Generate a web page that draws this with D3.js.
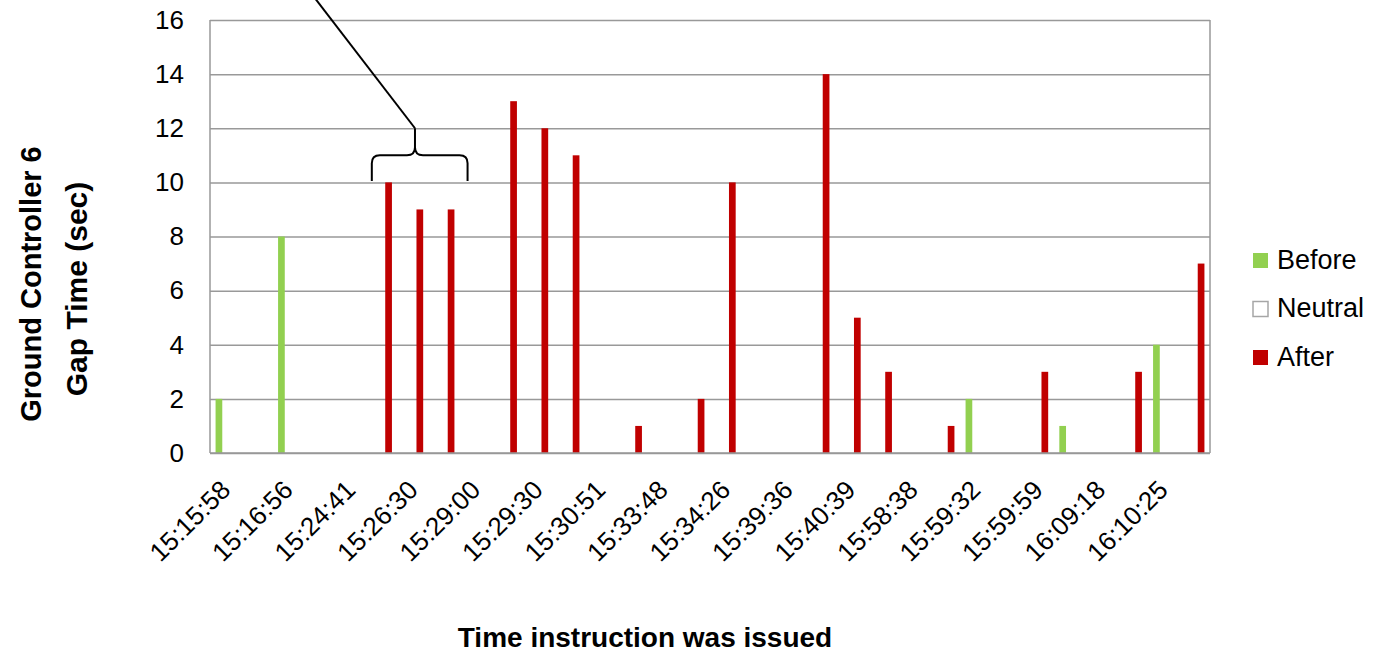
<!DOCTYPE html>
<html>
<head>
<meta charset="utf-8">
<script src="https://cdn.jsdelivr.net/npm/d3@7"></script>
<style>
  html, body { margin: 0; padding: 0; background: #fff; }
  svg { display: block; font-family: "Liberation Sans", Arial, sans-serif; }
</style>
</head>
<body>
<svg id="chart" width="1376" height="652"></svg>
<script>
// Instruction times (every other category carries a label)
const timeLabels = ["15:15:58", "15:16:56", "15:24:41", "15:26:30", "15:29:00", "15:29:30",
  "15:30:51", "15:33:48", "15:34:26", "15:39:36", "15:40:39", "15:58:38",
  "15:59:32", "15:59:59", "16:09:18", "16:10:25"];
const categoryCount = 32;

const seriesNames = ["Before", "Neutral", "After"];
const seriesColors = ["#92D050", "#FFFFFF", "#C00000"];

// Gap time in seconds, one entry per instruction
const beforeValues = [2, null, 8, null, null, null, null, null, null, null, null, null, null, null, null, null,
  null, null, null, null, null, null, null, null, 2, null, null, 1, null, null, 4, null];
const neutralValues = new Array(32).fill(null);
const afterValues = [null, null, null, null, null, 10, 9, 9, null, 13, 12, 11, null, 1, null, 2,
  10, null, null, 14, 5, 3, null, 1, null, null, 3, null, null, 3, null, 7];

const yTicks = [0, 2, 4, 6, 8, 10, 12, 14, 16];

const svg = d3.select("#chart");
const plot = { left: 210, top: 20, right: 1210, bottom: 453 };
const gridColor = "#999999";

const x0 = d3.scaleBand().domain(d3.range(categoryCount)).range([plot.left, plot.right]).padding(0);
const x1 = d3.scaleBand().domain(seriesNames).range([0, x0.bandwidth()]).paddingInner(0).paddingOuter(0.83);
const y = d3.scaleLinear().domain([0, 16]).range([plot.bottom, plot.top]);

// Horizontal gridlines and value labels
const yAxis = svg.append("g")
  .attr("transform", `translate(${plot.left},0)`)
  .call(d3.axisLeft(y).tickValues(yTicks).tickSize(-(plot.right - plot.left)).tickPadding(26));
yAxis.select(".domain").remove();
yAxis.selectAll(".tick line").attr("stroke", gridColor).attr("stroke-width", 1.5);
yAxis.selectAll(".tick text")
  .attr("font-size", 26).attr("fill", "#000")
  .attr("font-family", "'Liberation Sans', Arial, sans-serif");

// Plot frame: left and right edges
svg.append("line").attr("x1", plot.left).attr("x2", plot.left).attr("y1", plot.top).attr("y2", plot.bottom)
  .attr("stroke", gridColor).attr("stroke-width", 1.5);
svg.append("line").attr("x1", plot.right).attr("x2", plot.right).attr("y1", plot.top).attr("y2", plot.bottom)
  .attr("stroke", gridColor).attr("stroke-width", 1.5);

// Bars
const seriesValues = [beforeValues, neutralValues, afterValues];
seriesNames.forEach((name, si) => {
  const pts = seriesValues[si].map((v, i) => ({ i, v })).filter(d => d.v != null);
  svg.append("g").selectAll("rect").data(pts).join("rect")
    .attr("x", d => x0(d.i) + x1(name))
    .attr("width", x1.bandwidth())
    .attr("y", d => y(d.v))
    .attr("height", d => y(0) - y(d.v))
    .attr("fill", seriesColors[si]);
});

// Baseline over the bars
svg.append("line").attr("x1", plot.left).attr("x2", plot.right).attr("y1", plot.bottom).attr("y2", plot.bottom)
  .attr("stroke", gridColor).attr("stroke-width", 1.5);

// Category axis with rotated time labels
const labelled = d3.range(0, categoryCount, 2);
const xAxis = svg.append("g")
  .attr("transform", `translate(0,${plot.bottom})`)
  .call(d3.axisBottom(x0).tickValues(labelled).tickSize(0)
    .tickFormat(i => timeLabels[i / 2]));
xAxis.select(".domain").remove();
xAxis.selectAll(".tick text")
  .attr("font-size", 26).attr("fill", "#000")
  .attr("font-family", "'Liberation Sans', Arial, sans-serif")
  .attr("text-anchor", "end")
  .attr("y", 0).attr("dy", "0.35em")
  .attr("transform", "translate(0,32) rotate(-45)");

// Axis titles
svg.append("text")
  .attr("transform", "translate(31,284) rotate(-90)")
  .attr("text-anchor", "middle").attr("dominant-baseline", "central")
  .attr("font-size", 29).attr("font-weight", "bold")
  .text("Ground Controller 6");
svg.append("text")
  .attr("transform", "translate(76,289) rotate(-90)")
  .attr("text-anchor", "middle").attr("dominant-baseline", "central")
  .attr("font-size", 30).attr("font-weight", "bold")
  .text("Gap Time (sec)");
svg.append("text")
  .attr("x", 645).attr("y", 647)
  .attr("text-anchor", "middle")
  .attr("font-size", 28).attr("font-weight", "bold")
  .text("Time instruction was issued");

// Legend
const legend = svg.append("g").attr("transform", "translate(1253,253)");
seriesNames.forEach((name, si) => {
  const g = legend.append("g").attr("transform", `translate(0,${si * 48.5})`);
  g.append("rect").attr("width", 15).attr("height", 15)
    .attr("fill", seriesColors[si])
    .attr("stroke", si === 1 ? "#a6a6a6" : "none").attr("stroke-width", 1.5);
  g.append("text").attr("x", 24).attr("y", 15.5)
    .attr("font-size", 27).attr("fill", "#000").text(name);
});

// Callout: brace over the three consecutive After bars, with a leader line
const braceLeft = x0(5) + x1("Before");
const braceRight = x0(8) + x1("Before") + 2;
const braceMid = x0(6) + x1("After") - 1.5;
const tipY = y(12);
const barY = y(11);
const endY = y(10.05);
const r = 8;
const brace = d3.path();
brace.moveTo(braceLeft, endY);
brace.lineTo(braceLeft, barY + r);
brace.quadraticCurveTo(braceLeft, barY, braceLeft + r, barY);
brace.lineTo(braceMid - r, barY);
brace.quadraticCurveTo(braceMid, barY, braceMid, barY - r);
brace.lineTo(braceMid, tipY);
brace.moveTo(braceMid, barY - r);
brace.quadraticCurveTo(braceMid, barY, braceMid + r, barY);
brace.lineTo(braceRight - r, barY);
brace.quadraticCurveTo(braceRight, barY, braceRight, barY + r);
brace.lineTo(braceRight, endY);
svg.append("path").attr("d", brace.toString())
  .attr("fill", "none").attr("stroke", "#000").attr("stroke-width", 2);
svg.append("line")
  .attr("x1", braceMid).attr("y1", tipY)
  .attr("x2", braceMid - (tipY + 2) * (100 / 130)).attr("y2", -2)
  .attr("stroke", "#000").attr("stroke-width", 2);
</script>
</body>
</html>
